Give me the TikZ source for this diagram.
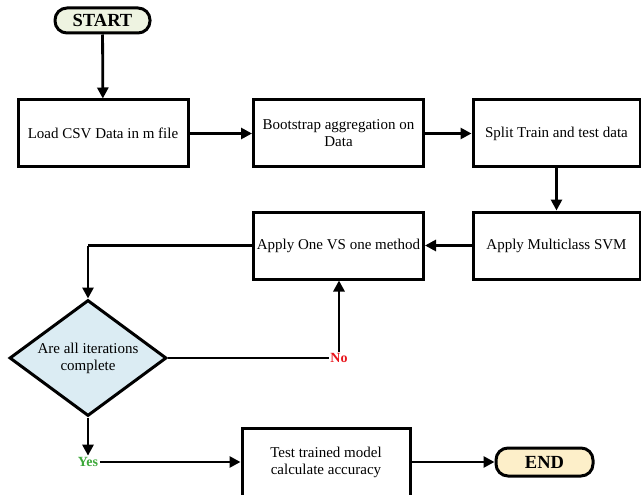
\documentclass[tikz,border=0pt]{standalone}
\usepackage{fontspec}
\setmainfont{Liberation Serif}
\usetikzlibrary{arrows.meta,shapes.geometric}

\definecolor{startfill}{HTML}{EEF3E1}
\definecolor{endfill}{HTML}{FDEFC9}
\definecolor{decfill}{HTML}{DBECF3}
\definecolor{nored}{HTML}{E8141B}
\definecolor{yesgreen}{HTML}{3DA83A}

\tikzset{
  procbox/.style={draw, line width=3pt, fill=white, minimum width=170pt,
    minimum height=67pt, inner sep=0pt, align=center,
    font=\fontsize{15}{17}\selectfont},
  terminal/.style={draw, line width=3pt, rounded corners=12pt, inner sep=0pt,
    font=\fontsize{18.5}{20}\selectfont\bfseries},
  decision/.style={draw, diamond, line width=3pt, fill=decfill, aspect=1.35,
    minimum width=157pt, minimum height=116pt, inner sep=0pt, align=center,
    font=\fontsize{15}{17}\selectfont},
  answer/.style={inner sep=1.5pt, font=\fontsize{14}{16}\selectfont\bfseries},
  flow/.style={line width=2.8pt, -{Triangle[length=11pt,width=11pt]}},
  plain/.style={line width=2.8pt}
}

\begin{document}
\begin{tikzpicture}[x=1pt, y=-1pt]
\useasboundingbox (0,0) rectangle (641,495);

% terminals
\node[terminal, fill=startfill, minimum width=95pt, minimum height=25pt] (start) at (102.5,20.5) {START};
\node[terminal, fill=endfill, minimum width=97pt, minimum height=28pt] (end) at (544.5,462) {END};

% process steps
\node[procbox] (load)  at (103,133.5)   {Load CSV Data in m file};
\node[procbox] (bag)   at (338.5,133.5) {Bootstrap aggregation on\\Data};
\node[procbox, minimum width=167pt] (split) at (556.5,133.5) {Split Train and test data};
\node[procbox, minimum width=167pt] (svm)   at (556.5,245.5) {Apply Multiclass SVM};
\node[procbox] (ovo)   at (338.5,245.5) {Apply One VS one method};
\node[procbox, minimum width=168pt, minimum height=68pt] (test) at (326,462) {Test trained model\\calculate accuracy};

% decision
\node[decision] (iter) at (88,358) {Are all iterations\\complete};

% answers
\node[answer, text=nored] (no) at (339,358) {No};
\node[answer, text=yesgreen] (yes) at (88,462) {Yes};

\coordinate (bend) at (88,245.5);

% connectors
\draw[flow] (start) -- (load);
\draw[flow] (load) -- (bag);
\draw[flow] (bag) -- (split);
\draw[flow] (split.south -| svm.north) -- (svm);
\draw[flow] (svm) -- (ovo);
\draw[plain] (ovo.west) -- (bend);
\draw[flow] (bend) -- (iter.north);
\draw[plain] (iter.east) -- (iter.east -| no.west);
\draw[flow] (no.north) -- (ovo.south -| no.north);
\draw[flow] (iter.south) -- (yes.north);
\draw[flow] (yes.east) -- (test.west);
\draw[flow] (test) -- (end);
\end{tikzpicture}
\end{document}
